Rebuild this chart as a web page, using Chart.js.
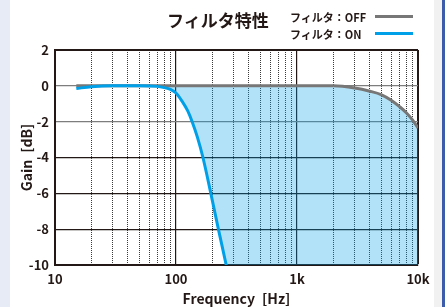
<!DOCTYPE html>
<html>
<head>
<meta charset="utf-8">
<script src="https://cdn.jsdelivr.net/npm/chart.js@4"></script>
<style>
  body { margin: 0; width: 445px; height: 307px; position: relative; overflow: hidden; background: #fff;
         font-family: "Noto Sans CJK JP", "Noto Sans", sans-serif; color: #231815; }
  .stripL { position: absolute; left: 0; top: 0; width: 10px; height: 307px; background: #e7ebf6; }
  .stripR { position: absolute; left: 434px; top: 0; width: 8px; height: 307px; background: #f1f1f1; }
  .stripB { position: absolute; left: 442px; top: 0; width: 3px; height: 307px; background: #3b5cab; }
  #chartFiltro { position: absolute; left: 0; top: 0; }
  .titulo { position: absolute; left: 167px; top: 8px; font-size: 17px; font-weight: bold; line-height: 24px; white-space: nowrap; }
  .leyenda { position: absolute; left: 290px; font-size: 11px; font-weight: bold; line-height: 14px; white-space: nowrap; }
  .linea { position: absolute; left: 375px; width: 38px; height: 3px; }
</style>
</head>
<body>
<div class="stripL"></div>
<div class="stripR"></div>
<div class="stripB"></div>
<canvas id="chartFiltro" width="445" height="307"></canvas>
<div class="titulo">フィルタ特性</div>
<div class="leyenda" style="top:10px">フィルタ：OFF</div>
<div class="linea" style="top:15px;background:#777777"></div>
<div class="leyenda" style="top:27px">フィルタ：ON</div>
<div class="linea" style="top:32px;background:#00a0e9"></div>
<script>
const frecuencias = [15, 20, 30, 50, 70, 80, 90, 100, 112, 125, 136, 150, 167, 194, 224, 260, 300, 400, 600,
    1000, 2000, 3000, 4000, 5000, 6000, 7000, 8000, 9000, 10000];
const gananciaOff = [0, 0, 0, 0, 0, 0, 0, 0, 0, 0, 0, 0, 0, 0, 0, 0, 0, 0, 0,
    0, 0, -0.12, -0.3, -0.5, -0.8, -1.15, -1.5, -1.9, -2.35];
const gananciaOn = [-0.15, -0.05, 0, 0, -0.03, -0.1, -0.2, -0.4, -0.85, -1.4, -2.0, -2.85, -4.0, -6.0, -8.0, -10.0, -12.0, -16, -21.5,
    -28, -38, -44, -48, -51, -53.5, -55.5, -57, -58.5, -60];
const ticksMayores = [10, 100, 1000, 10000];
const etiquetasX = ['10', '100', '1k', '10k'];
const ticksMenores = [20, 30, 40, 50, 60, 70, 80, 90, 200, 300, 400, 500, 600, 700, 800, 900,
    2000, 3000, 4000, 5000, 6000, 7000, 8000, 9000];

const oscuro = '#231815';
const fuenteTicks = { family: '"Noto Sans CJK JP", sans-serif', size: 13, weight: 'bold' };
const fuenteTitulo = { family: '"Noto Sans CJK JP", sans-serif', size: 14, weight: 'bold' };

const data = {
    labels: frecuencias,
    datasets: [{
        label: 'フィルタ：OFF',
        data: frecuencias.map((f, i) => ({ x: f, y: gananciaOff[i] })),
        borderColor: '#777777',
        borderWidth: 3,
        pointRadius: 0,
        cubicInterpolationMode: 'monotone',
        fill: false,
        order: 1
    }, {
        label: 'フィルタ：ON',
        data: frecuencias.map((f, i) => ({ x: f, y: gananciaOn[i] })),
        borderColor: '#00a0e9',
        borderWidth: 3,
        pointRadius: 0,
        cubicInterpolationMode: 'monotone',
        fill: { target: 0, above: 'rgba(0,0,0,0)', below: 'rgba(0,160,233,0.3)' },
        order: 0
    }]
};

const config = {
    type: 'line',
    data: data,
    options: {
        responsive: false,
        animation: false,
        devicePixelRatio: 1,
        layout: { padding: { left: 0, right: 27, top: 50, bottom: 0 } },
        plugins: {
            legend: { display: false },
            tooltip: { enabled: false },
            filler: { drawTime: 'beforeDatasetsDraw' }
        },
        scales: {
            x: {
                type: 'logarithmic',
                min: 10,
                max: 10000,
                afterBuildTicks: (eje) => { eje.ticks = ticksMayores.map((v) => ({ value: v })); },
                afterFit: (eje) => { eje.height = 42; },
                ticks: {
                    color: oscuro,
                    font: fuenteTicks,
                    padding: 6,
                    maxRotation: 0,
                    autoSkip: false,
                    callback: (valor, indice) => etiquetasX[indice]
                },
                grid: {
                    color: oscuro,
                    lineWidth: (ctx) => (ctx.tick && ctx.tick.value === 10000 ? 2 : 1.2),
                    drawTicks: false
                },
                border: { color: oscuro, width: 2 },
                title: {
                    display: true,
                    text: 'Frequency\u2002[Hz]',
                    color: oscuro,
                    font: fuenteTitulo,
                    padding: { top: 0, bottom: 0 }
                }
            },
            x2: {
                type: 'logarithmic',
                position: 'bottom',
                min: 10,
                max: 10000,
                afterBuildTicks: (eje) => { eje.ticks = ticksMenores.map((v) => ({ value: v })); },
                afterFit: (eje) => { eje.height = 0; },
                ticks: { display: false },
                grid: { color: '#3a3a3a', lineWidth: 1, drawTicks: false },
                border: { display: false, dash: [1, 1] }
            },
            y: {
                min: -10,
                max: 2,
                afterFit: (eje) => { eje.width = 55; },
                ticks: {
                    stepSize: 2,
                    color: oscuro,
                    font: fuenteTicks,
                    padding: 6
                },
                grid: {
                    color: (ctx) => (ctx.tick && (ctx.tick.value === 0 || ctx.tick.value === -2) ? '#7d7d7d' : oscuro),
                    lineWidth: (ctx) => (ctx.tick && ctx.tick.value === 2 ? 2 : 1.2),
                    drawTicks: false
                },
                border: { color: oscuro, width: 2 },
                title: {
                    display: true,
                    text: 'Gain\u2002[dB]',
                    color: oscuro,
                    font: fuenteTitulo,
                    padding: { top: 18, bottom: 0 }
                }
            }
        }
    }
};

const canvasFiltro = document.getElementById('chartFiltro');
const graficoFiltro = new Chart(canvasFiltro, config);
</script>
</body>
</html>
